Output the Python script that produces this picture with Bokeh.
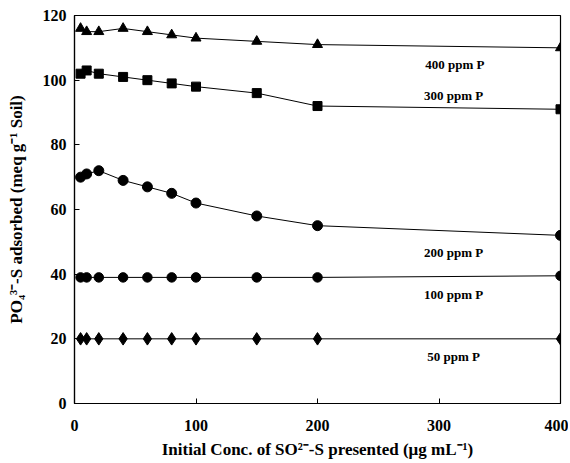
from bokeh.plotting import figure
from bokeh.embed import file_html
from bokeh.resources import INLINE
from bokeh.models import Range1d, FixedTicker
from bokeh.core.properties import value

x = [5, 10, 20, 40, 60, 80, 100, 150, 200, 400]
p400 = [116, 115, 115, 116, 115, 114, 113, 112, 111, 110]
p300 = [102, 103, 102, 101, 100, 99, 98, 96, 92, 91]
p200 = [70, 71, 72, 69, 67, 65, 62, 58, 55, 52]
p100 = [39, 39, 39, 39, 39, 39, 39, 39, 39, 39.5]
p50 = [20, 20, 20, 20, 20, 20, 20, 20, 20, 20]

label_text = ["400 ppm P", "300 ppm P", "200 ppm P", "100 ppm P", "50 ppm P"]
label_x = [313, 312, 312, 312, 312]
label_y = [104.8, 95.2, 46.8, 33.8, 14.6]

FONT = "Liberation Serif"

p = figure(width=568, height=461, output_backend="svg", toolbar_location=None,
           x_range=Range1d(0, 400), y_range=Range1d(0, 120),
           min_border_left=74, min_border_right=8, min_border_top=15, min_border_bottom=58)

p.grid.visible = False
p.outline_line_color = "black"
p.outline_line_width = 1.2
p.background_fill_color = "white"
p.border_fill_color = "white"

series = [(p400, "triangle", 10), (p300, "square", 9), (p200, "circle", 10),
          (p100, "circle", 9.5), (p50, "diamond", 12.5)]
for ys, mk, sz in series:
    p.line(x, ys, line_color="black", line_width=1)
    p.scatter(x, ys, marker=mk, size=sz, fill_color="black", line_color="black")

p.text(label_x, label_y, text=label_text, text_font=value(FONT), text_font_style="bold",
       text_font_size="13px", text_align="center", text_baseline="middle", text_color="black")

p.xaxis.ticker = FixedTicker(ticks=[0, 100, 200, 300, 400])
p.yaxis.ticker = FixedTicker(ticks=[0, 20, 40, 60, 80, 100, 120])
for ax in (p.xaxis[0], p.yaxis[0]):
    ax.major_tick_in = 5
    ax.major_tick_out = 0
    ax.minor_tick_in = 0
    ax.minor_tick_out = 0
    ax.axis_line_color = "black"
    ax.axis_line_width = 1.2
    ax.major_tick_line_color = "black"
    ax.major_label_text_font = FONT
    ax.major_label_text_font_style = "bold"
    ax.major_label_text_font_size = "16px"
    ax.major_label_text_color = "black"
    ax.axis_label_text_font = FONT
    ax.axis_label_text_font_style = "bold"
    ax.axis_label_text_font_size = "17px"
    ax.axis_label_text_color = "black"

p.xaxis.axis_label = "Initial Conc. of SO²⁻-S presented (μg mL⁻¹)"
p.yaxis.axis_label = "PO₄³⁻-S adsorbed (meq g⁻¹ Soil)"
p.xaxis.major_label_standoff = 16
p.xaxis.axis_label_standoff = 6
p.yaxis.major_label_standoff = 8
p.yaxis.axis_label_standoff = 14

open("out.html", "w").write(file_html(p, INLINE))
